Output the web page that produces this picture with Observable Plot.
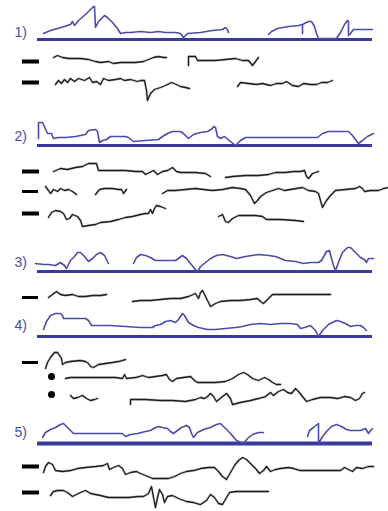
<!DOCTYPE html>
<html>
<head>
<meta charset="utf-8">
<script src="https://cdn.jsdelivr.net/npm/d3@7"></script>
<script src="https://cdn.jsdelivr.net/npm/@observablehq/plot@0.6"></script>
<style>
  html, body { margin: 0; padding: 0; background: #fff; }
  #chart { width: 388px; height: 511px; }
</style>
</head>
<body>
<div id="chart"></div>
<script>
// ---- Panel labels and baselines (time axis runs 0..388, value axis 0..511 downward) ----
const panelLabels = ["1)", "2)", "3)", "4)", "5)"];
const panelLabelY = [32, 136, 262, 325, 432];
const panelBaseY = [39, 145, 271, 336, 443];
const panelBaseWidth = [3, 3, 3, 3, 4];

// ---- Blue (upper) traces ----
const p1BlueA = [[43,33],[50,30],[57,28],[64,26],[70,24],[72,21],[74,25],[78,20],[85,14],[93,6],[94,6],[95,27],[98,21],[104,15],[107,17],[112,22],[117,28],[120,33],[125,32],[130,32],[140,31],[150,32],[158,31],[165,32],[175,32],[180,33],[183,37],[187,33],[200,32],[212,30],[222,29],[225,27],[227,29],[228,32]];
const p1BlueB = [[268,34],[271,31],[277,28],[288,26],[298,25],[302,24],[302,33],[302,24],[308,21],[311,21],[314,26],[316,33],[318,38],[336,38],[340,32],[344,24],[347,20],[348,21],[348,35],[350,33],[353,29],[372,29]];
const p2Blue = [[38,138],[38,122],[42,122],[47,133],[51,133],[53,138],[58,137],[65,137],[75,136],[80,135],[85,134],[88,130],[95,129],[97,131],[99,142],[102,140],[106,139],[110,136],[125,136],[128,137],[133,141],[145,140],[158,139],[162,136],[167,133],[172,131],[180,131],[183,133],[188,138],[193,134],[200,132],[207,131],[212,128],[213,126],[215,127],[217,136],[220,138],[224,136],[230,141],[235,145],[240,140],[245,137],[260,137],[290,137],[317,137],[322,133],[328,131],[348,131],[352,135],[358,143],[362,140],[367,136],[373,133]];
const p3BlueA = [[35,263],[43,264],[48,264],[55,265],[60,262],[64,265],[66,268],[70,260],[74,256],[77,252],[80,252],[84,256],[88,261],[92,258],[96,254],[100,252],[104,255],[108,263]];
const p3BlueB = [[133,263],[136,257],[140,254],[145,255],[150,257],[155,260],[165,260],[175,260],[182,255],[186,258],[190,263],[194,268],[197,271],[200,266],[205,262],[210,258],[216,255],[222,254],[230,256],[236,258],[245,256],[258,254],[268,255],[275,256],[285,260],[295,261],[303,263],[310,262],[318,262],[321,260],[326,251],[329,250],[331,258],[333,265],[335,270],[338,262],[342,252],[347,247],[350,247],[355,252],[360,257],[364,259],[366,262],[368,258],[373,258]];
const p4Blue = [[43,329],[46,321],[50,315],[55,313],[60,313],[62,315],[63,318],[85,318],[88,320],[91,325],[110,325],[125,326],[140,327],[152,327],[155,325],[160,324],[165,321],[170,320],[175,322],[178,319],[182,313],[184,315],[188,322],[193,325],[198,327],[207,329],[215,329],[225,328],[235,327],[242,326],[250,324],[260,323],[270,324],[280,323],[290,323],[297,324],[300,328],[304,327],[310,325],[315,330],[318,336],[322,330],[328,324],[336,320],[340,321],[345,323],[350,326],[355,325],[360,325],[363,327],[366,330]];
const p5BlueA = [[42,437],[45,432],[50,429],[55,427],[60,424],[63,423],[66,426],[70,430],[73,433],[90,433],[110,433],[122,433],[125,436],[130,434],[137,433],[145,431],[150,430],[155,427],[158,426],[162,427],[167,428],[170,431],[173,433],[177,430],[181,427],[186,425],[189,427],[191,433],[193,437],[197,432],[203,429],[210,427],[216,424],[220,423],[225,428],[230,433],[236,440],[243,443],[247,438],[252,434],[258,432],[263,432]];
const p5BlueB = [[307,436],[309,430],[313,427],[318,423],[318,443],[322,436],[326,431],[331,426],[336,424],[341,426],[346,429],[350,430],[355,430],[360,430],[365,428],[368,433],[370,430],[372,428]];

// ---- Black (lower) traces ----
const p1Row1A = [[53,57],[57,55],[62,57],[68,58],[80,58],[88,59],[95,61],[100,62],[108,61],[113,63],[120,62],[135,62],[143,61],[148,59],[153,57],[158,56],[163,57],[166,57]];
const p1Row1B = [[188,65],[188,56],[195,56],[197,60],[215,60],[225,59],[235,58],[242,60],[248,60],[252,65],[255,61],[258,57]];
const p1Row2A = [[55,84],[58,80],[61,83],[64,79],[67,82],[70,78],[74,81],[78,78],[84,80],[89,77],[92,82],[96,81],[100,84],[103,78],[108,80],[115,79],[120,78],[124,80],[130,79],[137,81],[140,80],[144,80],[146,90],[147,100],[150,93],[154,89],[160,87],[165,85],[171,82],[176,84],[180,86],[185,87],[189,88]];
const p1Row2B = [[237,86],[240,82],[248,83],[256,84],[262,83],[270,85],[276,83],[282,83],[286,81],[292,85],[298,86],[303,83],[310,84],[316,84],[321,82],[327,82],[332,80]];
const p2Row1A = [[53,171],[60,168],[67,169],[75,167],[82,166],[88,163],[96,163],[98,170],[105,170],[115,170],[125,170],[135,171],[142,171],[145,174],[149,172],[153,170],[157,174],[162,171],[167,170],[172,167],[176,171],[180,172],[195,172],[205,173],[210,176]];
const p2Row1B = [[225,177],[232,176],[245,175],[258,175],[268,174],[275,172],[285,172],[293,171],[300,171],[304,170],[306,176],[308,178],[312,173],[318,171]];
const p2Row2A = [[45,186],[48,190],[50,193],[53,189],[57,191],[60,188],[64,190],[68,189],[72,191],[76,194]];
const p2Row2B = [[95,194],[99,189],[104,188],[112,188],[118,189],[121,189],[123,193],[126,189]];
const p2Row2C = [[162,193],[167,190],[175,190],[185,189],[195,188],[203,189],[212,190],[222,189],[232,187],[240,188],[245,189],[250,195],[254,203],[257,200],[260,196],[266,192],[272,190],[278,188],[284,190],[290,189],[296,188],[302,187],[308,190],[315,191],[318,193],[320,200],[322,207],[326,200],[330,195],[335,190],[345,189],[355,188],[359,186],[362,188],[364,191],[370,190],[378,190],[383,188],[388,187]];
const p2Row3A = [[48,217],[51,212],[55,210],[60,211],[63,213],[66,219],[69,218],[72,214],[77,216],[80,220],[82,226],[88,225],[95,224],[100,222],[110,221],[118,219],[125,217],[132,216],[140,214],[145,213],[148,213],[150,209],[152,213],[154,208],[156,205],[160,206],[165,208]];
const p2Row3B = [[218,216],[222,214],[225,221],[228,222],[232,218],[238,215],[245,215],[255,215],[262,216],[266,219],[280,219],[295,220],[303,221]];
const p3Row1A = [[48,297],[52,294],[56,291],[60,294],[65,295],[72,294],[78,296],[85,296],[92,295],[100,295],[106,294]];
const p3Row1B = [[132,301],[140,300],[150,300],[160,299],[170,298],[180,298],[188,296],[195,293],[198,298],[200,292],[202,290],[205,296],[208,302],[210,306],[215,303],[220,301],[230,300],[240,300],[250,299],[257,298],[260,301],[263,303],[268,298],[272,294],[290,294],[310,294],[330,294]];
const p4Row1 = [[45,368],[47,362],[50,357],[54,352],[57,352],[59,355],[61,358],[62,364],[65,362],[70,361],[80,360],[85,361],[88,363],[90,366],[93,367],[98,364],[105,363],[112,362],[118,361],[125,359]];
const p4Row2 = [[65,378],[70,377],[85,377],[100,377],[115,377],[122,378],[124,374],[126,378],[135,377],[142,375],[148,377],[155,376],[162,375],[166,374],[169,379],[172,381],[176,378],[183,377],[190,376],[194,380],[197,382],[205,382],[215,382],[225,381],[232,378],[238,374],[243,372],[247,374],[252,378],[258,380],[264,377],[268,379],[272,382],[276,384],[280,384]];
const p4Row3A = [[70,395],[73,398],[77,397],[82,395],[86,398],[90,400],[94,399],[97,398]];
const p4Row3B = [[130,404],[130,399],[145,399],[160,400],[172,400],[185,401],[195,399],[200,397],[204,398],[207,396],[210,393],[213,396],[216,401],[222,396],[226,393],[230,398],[232,404],[240,402],[250,400],[258,398],[265,396],[270,392],[273,395],[278,391],[283,389],[287,392],[291,393],[295,388],[298,391],[302,396],[306,401],[312,399],[320,397],[330,397],[337,398],[344,396],[350,397],[355,400],[359,398],[362,393],[364,392]];
const p5Row1 = [[43,472],[45,466],[48,462],[52,464],[55,470],[62,471],[70,470],[77,468],[85,467],[95,466],[103,465],[107,463],[109,469],[113,467],[118,465],[122,468],[125,474],[130,472],[136,471],[140,473],[145,475],[152,478],[160,478],[168,478],[174,476],[180,473],[186,471],[193,470],[200,468],[208,467],[214,467],[218,471],[222,476],[226,479],[230,472],[234,465],[238,460],[242,457],[246,459],[250,463],[255,468],[259,473],[263,470],[266,466],[270,471],[275,469],[280,468],[288,467],[293,468],[300,470],[320,470],[340,470],[344,467],[348,469],[352,471],[356,467],[362,468],[368,466],[373,466]];
const p5Row2 = [[50,495],[53,491],[57,490],[63,490],[67,492],[72,496],[76,494],[80,492],[85,490],[90,493],[95,494],[100,495],[108,497],[118,497],[128,497],[138,496],[143,496],[148,493],[151,486],[153,497],[155,507],[157,497],[159,489],[162,494],[164,502],[167,496],[172,495],[178,498],[186,501],[193,502],[200,504],[206,500],[210,494],[214,497],[218,503],[222,504],[226,497],[229,492],[235,491],[250,491],[268,491]];

// ---- Row markers ----
const dashRowsY = [61, 82, 171, 191, 213, 297, 362, 466, 492];
const dashWeight = [4, 4, 4, 3, 4, 3, 3, 4, 4];
const dotRowsY = [376, 394];

// ---- Build tables ----
const blueTraces = {p1BlueA, p1BlueB, p2Blue, p3BlueA, p3BlueB, p4Blue, p5BlueA, p5BlueB};
const blackTraces = {p1Row1A, p1Row1B, p1Row2A, p1Row2B, p2Row1A, p2Row1B, p2Row2A, p2Row2B, p2Row2C, p2Row3A, p2Row3B, p3Row1A, p3Row1B, p4Row1, p4Row2, p4Row3A, p4Row3B, p5Row1, p5Row2};
const toRows = (obj) => Object.entries(obj).flatMap(([id, pts]) => pts.map(([t, v]) => ({id, t, v})));
const blueRows = toRows(blueTraces);
const blackRows = toRows(blackTraces);
const labels = panelLabels.map((label, i) => ({label, v: panelLabelY[i]}));
const bases = panelBaseY.map((v, i) => ({v, w: panelBaseWidth[i]}));
const dashes = dashRowsY.map((v, i) => ({v, w: dashWeight[i]}));
const dots = dotRowsY.map(v => ({v}));

const BLUE = "#4b4bab";
const NAVY = "#3a3a9c";
const INK = "#1e1e1e";

const chart = Plot.plot({
  width: 388,
  height: 511,
  margin: 0,
  x: {domain: [0, 388], range: [0, 388], axis: null},
  y: {domain: [0, 511], range: [0, 511], axis: null},
  style: {background: "#fff", fontFamily: "Liberation Sans, Arial, sans-serif"},
  marks: [
    Plot.ruleY(bases.filter(d => d.w === 3), {y: "v", x1: 37, x2: 372, stroke: NAVY, strokeWidth: 3}),
    Plot.ruleY(bases.filter(d => d.w === 4), {y: "v", x1: 37, x2: 372, stroke: NAVY, strokeWidth: 4}),
    Plot.line(blueRows, {x: "t", y: "v", z: "id", stroke: BLUE, strokeWidth: 1.6, curve: "linear", strokeLinejoin: "round"}),
    Plot.line(blackRows, {x: "t", y: "v", z: "id", stroke: "#888", strokeWidth: 2.4, strokeOpacity: 0.45, strokeLinejoin: "round"}),
    Plot.line(blackRows, {x: "t", y: "v", z: "id", stroke: INK, strokeWidth: 1.3, strokeLinejoin: "round"}),
    Plot.ruleY(dashes.filter(d => d.w === 4), {y: "v", x1: 22, x2: 39, stroke: "#000", strokeWidth: 4}),
    Plot.ruleY(dashes.filter(d => d.w === 3), {y: "v", x1: 22, x2: 38, stroke: "#000", strokeWidth: 3}),
    Plot.dot(dots, {x: 51, y: "v", r: 3.5, fill: "#000", stroke: null}),
    Plot.text(labels, {x: 14, y: "v", text: "label", textAnchor: "start", fill: BLUE, fontSize: 14, fontWeight: "normal"})
  ]
});
document.getElementById("chart").appendChild(chart);
</script>
</body>
</html>
